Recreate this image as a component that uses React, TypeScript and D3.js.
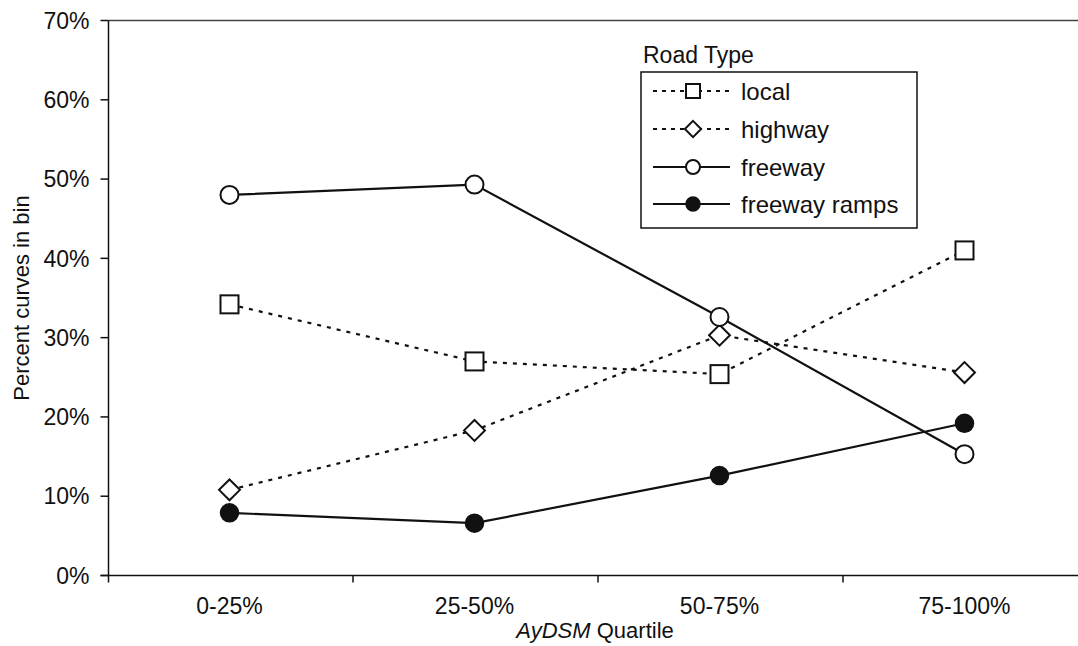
import React from "react";
import * as d3 from "d3";

const categories = ["0-25%", "25-50%", "50-75%", "75-100%"];
const localVals = [34.2, 27.0, 25.4, 41.0];
const highwayVals = [10.8, 18.3, 30.3, 25.6];
const freewayVals = [48.0, 49.3, 32.6, 15.3];
const rampVals = [7.9, 6.6, 12.6, 19.2];
const yTicks = [0, 10, 20, 30, 40, 50, 60, 70];
const legendLabels = ["local", "highway", "freeway", "freeway ramps"];

type Marker = "square" | "diamond" | "open" | "filled";
const series: { name: string; values: number[]; dashed: boolean; marker: Marker }[] = [
  { name: legendLabels[0], values: localVals, dashed: true, marker: "square" },
  { name: legendLabels[1], values: highwayVals, dashed: true, marker: "diamond" },
  { name: legendLabels[2], values: freewayVals, dashed: false, marker: "open" },
  { name: legendLabels[3], values: rampVals, dashed: false, marker: "filled" },
];

const W = 1078;
const H = 646;
const FONT = "'Liberation Sans', Arial, Helvetica, sans-serif";
const INK = "#111";

function MarkerShape({ type, x, y, s }: { type: Marker; x: number; y: number; s: number }) {
  if (type === "square") {
    return <rect x={x - s / 2} y={y - s / 2} width={s} height={s} fill="#fff" stroke={INK} strokeWidth={2} />;
  }
  if (type === "diamond") {
    const r = s * 0.58;
    return (
      <path d={`M${x},${y - r}L${x + r},${y}L${x},${y + r}L${x - r},${y}Z`} fill="#fff" stroke={INK} strokeWidth={2} />
    );
  }
  if (type === "open") {
    return <circle cx={x} cy={y} r={s / 2} fill="#fff" stroke={INK} strokeWidth={2} />;
  }
  return <circle cx={x} cy={y} r={s / 2} fill={INK} stroke={INK} strokeWidth={1.5} />;
}

export default function App() {
  const left = 108.5;
  const top = 20.5;
  const bottom = 575.5;
  const x = d3.scaleBand<string>().domain(categories).range([107, 107 + 245 * 4]);
  const y = d3.scaleLinear().domain([0, 70]).range([bottom, top]);
  const cx = (c: string) => (x(c) as number) + x.bandwidth() / 2;

  const line = d3
    .line<number>()
    .x((_, i) => cx(categories[i]))
    .y((v) => y(v));

  const boundaries = categories.slice(1).map((c) => x(c) as number);

  const legX = 641;
  const legY = 72;
  const legRows = [91, 129, 167, 204];

  return (
    <svg width={W} height={H} style={{ position: "absolute", left: 0, top: 0, background: "#fff" }} fontFamily={FONT}>
      <rect x={0} y={0} width={W} height={H} fill="#fff" />
      {/* plot border top */}
      <line x1={left} x2={W} y1={top} y2={top} stroke="#444" strokeWidth={1.5} />
      {/* y axis */}
      <line x1={left} x2={left} y1={top} y2={bottom + 7} stroke={INK} strokeWidth={1.5} />
      {/* x axis */}
      <line x1={left - 8} x2={W} y1={bottom} y2={bottom} stroke={INK} strokeWidth={1.5} />
      {yTicks.map((t) => (
        <g key={t}>
          <line x1={left - 8} x2={left} y1={y(t)} y2={y(t)} stroke={INK} strokeWidth={1.5} />
          <text x={left - 19} y={y(t)} dy="0.36em" textAnchor="end" fontSize={23} fill={INK}>
            {t}%
          </text>
        </g>
      ))}
      {boundaries.map((b, i) => (
        <line key={i} x1={b + 1} x2={b + 1} y1={bottom} y2={bottom + 7} stroke={INK} strokeWidth={1.5} />
      ))}
      {categories.map((c) => (
        <text key={c} x={cx(c)} y={614} textAnchor="middle" fontSize={23} fill={INK}>
          {c}
        </text>
      ))}
      <text x={595} y={638} textAnchor="middle" fontSize={22} fill={INK}>
        <tspan fontStyle="italic">AyDSM</tspan> Quartile
      </text>
      <text
        transform={`translate(29, ${(top + bottom) / 2}) rotate(-90)`}
        textAnchor="middle"
        fontSize={22}
        fill={INK}
      >
        Percent curves in bin
      </text>

      {/* series */}
      {series.map((s) => (
        <path
          key={s.name}
          d={line(s.values) || ""}
          fill="none"
          stroke={INK}
          strokeWidth={2.2}
          strokeDasharray={s.dashed ? "4,6" : undefined}
        />
      ))}
      {series.map((s) =>
        s.values.map((v, i) => (
          <MarkerShape key={s.name + i} type={s.marker} x={cx(categories[i])} y={y(v)} s={18} />
        ))
      )}

      {/* legend */}
      <text x={643} y={63} fontSize={23} fill={INK}>
        Road Type
      </text>
      <rect x={legX} y={legY} width={276} height={156} fill="#fff" stroke={INK} strokeWidth={1.5} />
      {series.map((s, i) => (
        <g key={s.name}>
          <line
            x1={653}
            x2={730}
            y1={legRows[i]}
            y2={legRows[i]}
            stroke={INK}
            strokeWidth={2}
            strokeDasharray={s.dashed ? "4,5" : undefined}
          />
          <MarkerShape type={s.marker} x={693} y={legRows[i]} s={14} />
          <text x={741} y={legRows[i]} dy="0.36em" fontSize={24} fill={INK}>
            {s.name}
          </text>
        </g>
      ))}
    </svg>
  );
}
